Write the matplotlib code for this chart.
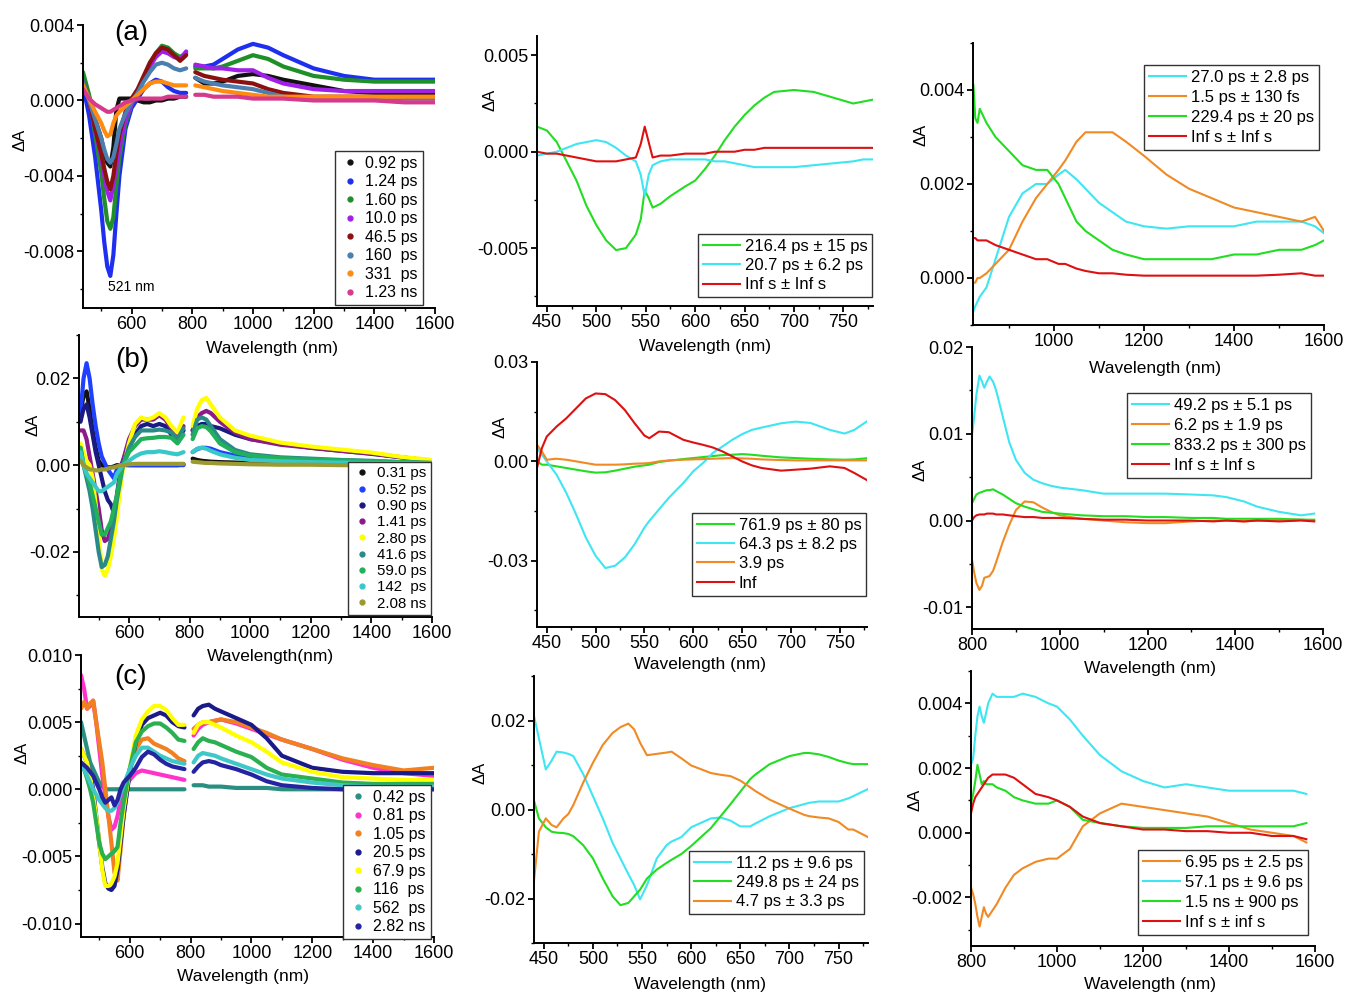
import matplotlib
matplotlib.use("Agg")
import matplotlib.pyplot as plt
from matplotlib.lines import Line2D
from matplotlib.ticker import MultipleLocator, FuncFormatter

plt.rcParams["font.family"] = ["Liberation Sans", "DejaVu Sans"]
plt.rcParams["axes.unicode_minus"] = False

W, H = 1346, 994

# ---------------- (a) left: TA spectra at delays ----------------
a_vis_wl = [440, 460, 480, 500, 510, 520, 530, 540, 550, 560, 580, 600, 620, 640, 660, 680, 700, 720, 740, 760, 780]
a_nir_wl = [810, 840, 870, 900, 950, 1000, 1050, 1100, 1200, 1300, 1400, 1500, 1600]
a_labels = ["0.92 ps", "1.24 ps", "1.60 ps", "10.0 ps", "46.5 ps", "160  ps", "331  ps", "1.23 ns"]
a_vis = [
    [0.0008, 0.0002, -0.001, -0.002, -0.0028, -0.0033, -0.0035, -0.0025, -0.0005, 0.0001, 0.0001, 0.0001, 0.0, -0.0001, -0.0001, 0.0, 0.0, 0.0001, 0.0001, 0.0002, 0.0002],
    [0.0008, -0.0008, -0.003, -0.0058, -0.0075, -0.0088, -0.0093, -0.0082, -0.006, -0.004, -0.0015, -0.0004, 0.0001, 0.0006, 0.0009, 0.0011, 0.001, 0.0007, 0.0005, 0.0004, 0.0004],
    [0.0015, 0.0003, -0.0018, -0.0038, -0.0052, -0.0064, -0.0068, -0.0062, -0.0045, -0.003, -0.0012, -0.0002, 0.0004, 0.0012, 0.0019, 0.0025, 0.0029, 0.0028, 0.0025, 0.0023, 0.0025],
    [0.001, 0.0, -0.0015, -0.003, -0.004, -0.0048, -0.0053, -0.0045, -0.0035, -0.0025, -0.001, -0.0002, 0.0005, 0.0012, 0.0018, 0.0023, 0.0026, 0.0025, 0.0023, 0.0022, 0.0026],
    [0.001, 0.0, -0.0015, -0.0028, -0.0036, -0.0043, -0.0047, -0.004, -0.0028, -0.0018, -0.0006, 0.0001, 0.0006, 0.0013, 0.002, 0.0025, 0.0028, 0.0027, 0.0024, 0.0021, 0.0024],
    [0.001, 0.0, -0.001, -0.002, -0.0026, -0.0031, -0.0033, -0.003, -0.0023, -0.0015, -0.0007, -0.0001, 0.0004, 0.001, 0.0015, 0.0019, 0.002, 0.0019, 0.0017, 0.0016, 0.0017],
    [0.0008, 0.0001, -0.0006, -0.0012, -0.0016, -0.0019, -0.0018, -0.0012, -0.0008, -0.0006, -0.0003, 0.0, 0.0003, 0.0006, 0.0009, 0.001, 0.001, 0.0009, 0.0008, 0.0008, 0.0008],
    [0.0006, 0.0001, -0.0002, -0.0004, -0.0005, -0.0006, -0.0006, -0.0005, -0.0004, -0.0003, -0.0001, 0.0, 0.0001, 0.0001, 0.0001, 0.0001, 0.0001, 0.0002, 0.0002, 0.0002, 0.0002],
]
a_nir = [
    [0.0012, 0.0009, 0.0009, 0.001, 0.0013, 0.0014, 0.0013, 0.0011, 0.0008, 0.0005, 0.0004, 0.0003, 0.0003],
    [0.0018, 0.0018, 0.0019, 0.0022, 0.0027, 0.003, 0.0028, 0.0024, 0.0017, 0.0013, 0.0011, 0.0011, 0.0011],
    [0.0017, 0.0017, 0.0017, 0.0018, 0.0021, 0.0024, 0.0022, 0.0018, 0.0013, 0.0011, 0.001, 0.001, 0.001],
    [0.0019, 0.0018, 0.0017, 0.0017, 0.0016, 0.0016, 0.0012, 0.0009, 0.0006, 0.0005, 0.0005, 0.0005, 0.0005],
    [0.0015, 0.0013, 0.0012, 0.0011, 0.001, 0.0009, 0.0006, 0.0004, 0.0002, 0.0002, 0.0002, 0.0002, 0.0002],
    [0.0012, 0.001, 0.0009, 0.0008, 0.0007, 0.0006, 0.0004, 0.0002, 0.0001, 0.0001, 0.0001, 0.0001, 0.0001],
    [0.0008, 0.0007, 0.0006, 0.0005, 0.0004, 0.0003, 0.0002, 0.0002, 0.0002, 0.0002, 0.0002, 0.0002, 0.0002],
    [0.0003, 0.0003, 0.0002, 0.0002, 0.0002, 0.0001, 0.0001, 0.0001, 0.0, 0.0, 0.0, -0.0001, -0.0001],
]
a_colors = ["#111111", "#1f2ff0", "#1f8f2a", "#a020e8", "#8b1010", "#4a7fb0", "#ff8c10", "#d63a8c"]

# ---------------- (b) left ----------------
b_vis_wl = [440, 450, 460, 470, 480, 490, 500, 510, 520, 530, 540, 550, 560, 570, 580, 600, 620, 640, 660, 680, 700, 720, 740, 760, 780]
b_nir_wl = [810, 825, 840, 855, 870, 900, 950, 1000, 1100, 1200, 1300, 1400, 1500, 1600]
b_labels = ["0.31 ps", "0.52 ps", "0.90 ps", "1.41 ps", "2.80 ps", "41.6 ps", "59.0 ps", "142  ps", "2.08 ns"]
b_vis = [
    [0.012, 0.016, 0.017, 0.013, 0.008, 0.004, 0.001, 0.0, -0.0003, -0.0005, -0.0005, -0.0003, 0.0, 0.0, 0.0, 0.0, 0.0, 0.0, 0.0, 0.0, 0.0, 0.0, 0.0, 0.0, 0.0002],
    [0.012, 0.02, 0.0235, 0.02, 0.014, 0.009, 0.005, 0.002, 0.0005, -0.001, -0.002, -0.003, -0.001, 0.0, 0.0005, 0.0, 0.0, 0.0, 0.0, 0.0, 0.0, 0.0, 0.0, 0.0, 0.0],
    [0.01, 0.013, 0.014, 0.011, 0.007, 0.003, 0.0, -0.003, -0.006, -0.008, -0.009, -0.011, -0.007, -0.002, 0.001, 0.004, 0.007, 0.009, 0.0095, 0.009, 0.0095, 0.009, 0.007, 0.006, 0.008],
    [0.008, 0.008, 0.006, 0.002, -0.002, -0.006, -0.01, -0.015, -0.0175, -0.017, -0.015, -0.012, -0.008, -0.003, 0.001, 0.006, 0.009, 0.0105, 0.0105, 0.0105, 0.0115, 0.0105, 0.0085, 0.006, 0.009],
    [0.005, 0.003, 0.001, 0.0, -0.003, -0.009, -0.016, -0.024, -0.0255, -0.024, -0.021, -0.017, -0.012, -0.006, -0.001, 0.005, 0.0095, 0.011, 0.0105, 0.011, 0.012, 0.011, 0.009, 0.0075, 0.011],
    [0.004, 0.0, -0.003, -0.006, -0.01, -0.015, -0.02, -0.0235, -0.023, -0.021, -0.017, -0.013, -0.008, -0.004, 0.0, 0.004, 0.0065, 0.008, 0.008, 0.008, 0.0082, 0.008, 0.0075, 0.006, 0.0085],
    [0.004, 0.0, -0.002, -0.004, -0.007, -0.01, -0.013, -0.016, -0.016, -0.0145, -0.013, -0.01, -0.007, -0.003, 0.0, 0.003, 0.0045, 0.006, 0.0062, 0.0063, 0.0065, 0.0065, 0.0063, 0.005, 0.007],
    [0.003, 0.0, -0.002, -0.003, -0.004, -0.005, -0.006, -0.006, -0.0055, -0.005, -0.0045, -0.004, -0.002, -0.001, 0.0, 0.001, 0.002, 0.0027, 0.003, 0.003, 0.0032, 0.003, 0.0027, 0.0025, 0.003],
    [0.001, 0.0, -0.0005, -0.001, -0.001, -0.0012, -0.0012, -0.001, -0.001, -0.0008, -0.0006, -0.0005, -0.0003, 0.0, 0.0, 0.0002, 0.0003, 0.0003, 0.0003, 0.0003, 0.0003, 0.0003, 0.0003, 0.0003, 0.0003],
]
b_nir = [
    [0.0015, 0.0012, 0.001, 0.0009, 0.0008, 0.0007, 0.0006, 0.0005, 0.0004, 0.0003, 0.0002, 0.0001, 0.0, 0.0],
    [0.003, 0.0037, 0.004, 0.004, 0.0038, 0.003, 0.0022, 0.0015, 0.001, 0.0007, 0.0006, 0.0005, 0.0005, 0.0005],
    [0.008, 0.009, 0.0095, 0.0095, 0.009, 0.0085, 0.007, 0.006, 0.005, 0.004, 0.0033, 0.0026, 0.0018, 0.001],
    [0.008, 0.011, 0.012, 0.0125, 0.012, 0.01, 0.0075, 0.006, 0.0047, 0.004, 0.0033, 0.0027, 0.0018, 0.001],
    [0.009, 0.013, 0.015, 0.0155, 0.014, 0.011, 0.008, 0.0068, 0.0052, 0.0043, 0.0036, 0.0029, 0.0019, 0.0012],
    [0.007, 0.0105, 0.011, 0.0105, 0.009, 0.006, 0.0035, 0.0025, 0.0018, 0.0015, 0.0012, 0.001, 0.0007, 0.0005],
    [0.006, 0.0085, 0.009, 0.0088, 0.0078, 0.005, 0.003, 0.0022, 0.0016, 0.0013, 0.0011, 0.0009, 0.0007, 0.0005],
    [0.003, 0.0038, 0.004, 0.0038, 0.0033, 0.0025, 0.0017, 0.0012, 0.0009, 0.0007, 0.0006, 0.0005, 0.0005, 0.0005],
    [0.0008, 0.0007, 0.0006, 0.0005, 0.0005, 0.0004, 0.0003, 0.0002, 0.0001, 0.0001, 0.0, 0.0, 0.0, 0.0],
]
b_colors = ["#111111", "#2040ff", "#1a1a80", "#8b1a8b", "#ffff00", "#2a8a8a", "#22b05a", "#38c8c8", "#9a9a30"]

# ---------------- (c) left ----------------
c_vis_wl = [440, 450, 460, 470, 480, 490, 500, 510, 520, 530, 540, 550, 560, 570, 580, 600, 620, 640, 660, 680, 700, 720, 740, 760, 780]
c_nir_wl = [810, 825, 840, 860, 880, 900, 950, 1000, 1050, 1100, 1200, 1300, 1400, 1500, 1600]
c_labels = ["0.42 ps", "0.81 ps", "1.05 ps", "20.5 ps", "67.9 ps", "116  ps", "562  ps", "2.82 ns"]
c_vis = [
    [0.005, 0.004, 0.003, 0.002, 0.0015, 0.001, 0.0005, 0.0002, 0.0, 0.0, 0.0, 0.0, 0.0, 0.0, 0.0, 0.0, 0.0, 0.0, 0.0, 0.0, 0.0, 0.0, 0.0, 0.0, 0.0],
    [0.0085, 0.0075, 0.006, 0.0062, 0.0066, 0.005, 0.003, 0.001, -0.0005, -0.002, -0.003, -0.0028, -0.002, -0.0008, 0.0, 0.0007, 0.0012, 0.0014, 0.0013, 0.0012, 0.0011, 0.001, 0.0009, 0.0008, 0.0007],
    [0.006, 0.0065, 0.006, 0.0064, 0.0066, 0.005, 0.0035, 0.002, 0.0, -0.002, -0.004, -0.0062, -0.0068, -0.0045, -0.002, 0.0015, 0.003, 0.0037, 0.0038, 0.0034, 0.0032, 0.003, 0.0027, 0.0023, 0.0021],
    [0.003, 0.0025, 0.002, 0.0012, 0.0, -0.002, -0.004, -0.0058, -0.007, -0.0074, -0.0075, -0.0072, -0.006, -0.004, -0.002, 0.0012, 0.0035, 0.0048, 0.0053, 0.0055, 0.0057, 0.0055, 0.005, 0.0047, 0.0046],
    [0.003, 0.0025, 0.002, 0.001, -0.0005, -0.002, -0.004, -0.006, -0.0072, -0.0072, -0.007, -0.0065, -0.0055, -0.0035, -0.0015, 0.0015, 0.004, 0.0052, 0.0058, 0.0062, 0.0062, 0.0059, 0.0053, 0.0048, 0.0048],
    [0.002, 0.0015, 0.0008, 0.0, -0.001, -0.0025, -0.004, -0.0048, -0.0052, -0.005, -0.0048, -0.0046, -0.0043, -0.0025, -0.001, 0.0015, 0.0035, 0.0043, 0.0047, 0.0049, 0.0049, 0.0046, 0.0042, 0.0037, 0.0036],
    [0.002, 0.0015, 0.001, 0.0005, 0.0, -0.0004, -0.0008, -0.0011, -0.0014, -0.0016, -0.0016, -0.0014, -0.001, -0.0003, 0.0003, 0.0015, 0.0025, 0.0031, 0.0031, 0.0028, 0.0025, 0.0023, 0.0021, 0.002, 0.0019],
    [0.002, 0.0018, 0.0016, 0.0013, 0.001, 0.0005, 0.0, -0.0006, -0.001, -0.0008, -0.0006, -0.0012, -0.0008, 0.0, 0.0005, 0.001, 0.0016, 0.0024, 0.0028, 0.0026, 0.0022, 0.0019, 0.0017, 0.0016, 0.0015],
]
c_nir = [
    [0.0003, 0.0003, 0.0003, 0.0002, 0.0002, 0.0002, 0.0001, 0.0001, 0.0001, 0.0, 0.0, 0.0, 0.0, 0.0, 0.0],
    [0.004, 0.0045, 0.0048, 0.005, 0.0051, 0.0052, 0.0049, 0.0045, 0.0041, 0.0037, 0.003, 0.0022, 0.0016, 0.0012, 0.001],
    [0.0045, 0.0048, 0.005, 0.005, 0.0051, 0.0052, 0.005, 0.0046, 0.0042, 0.0037, 0.003, 0.0023, 0.0018, 0.0014, 0.0016],
    [0.0055, 0.006, 0.0062, 0.0063, 0.006, 0.0058, 0.0053, 0.0048, 0.0038, 0.0025, 0.0016, 0.0013, 0.0012, 0.0012, 0.0012],
    [0.0042, 0.0048, 0.005, 0.005, 0.0048, 0.0046, 0.004, 0.0035, 0.0028, 0.002, 0.0013, 0.0009, 0.0008, 0.0007, 0.0007],
    [0.003, 0.0035, 0.0038, 0.0036, 0.0035, 0.0033, 0.0028, 0.0024, 0.0016, 0.0011, 0.0008, 0.0005, 0.0004, 0.0004, 0.0004],
    [0.002, 0.0025, 0.0027, 0.0026, 0.0025, 0.0023, 0.0019, 0.0015, 0.0011, 0.0008, 0.0005, 0.0003, 0.0002, 0.0002, 0.0002],
    [0.0013, 0.0017, 0.002, 0.0021, 0.002, 0.0018, 0.0015, 0.0011, 0.0006, 0.0003, 0.0001, 0.0, 0.0, 0.0, 0.0],
]
c_colors = ["#2a8f80", "#ff33cc", "#f08020", "#1a1a8a", "#ffff00", "#2ab050", "#40c8c8", "#2424a0"]

# ---------------- middle / right: decay-associated spectra ----------------
ma_wl = [440, 450, 460, 470, 480, 490, 500, 510, 520, 530, 540, 545, 549, 553, 557, 565, 575, 590, 600, 610, 620, 630, 640, 650, 660, 670, 680, 700, 720, 740, 760, 770, 780]
ma_labels = ["216.4 ps ± 15 ps", "20.7 ps ± 6.2 ps", "Inf s ± Inf s"]
ma_vals = [
    [0.0013, 0.0011, 0.0005, -0.0005, -0.0015, -0.0028, -0.0038, -0.0046, -0.0051, -0.005, -0.0043, -0.0035, -0.002, -0.0024, -0.0029, -0.0027, -0.0023, -0.0018, -0.0015, -0.0009, -0.0002, 0.0006, 0.0013, 0.0019, 0.0024, 0.0028, 0.0031, 0.0032, 0.0031, 0.0028, 0.0025, 0.0026, 0.0027],
    [-0.0002, -0.0001, 0.0, 0.0002, 0.0004, 0.0005, 0.0006, 0.0005, 0.0002, -0.0002, -0.0005, -0.0012, -0.0023, -0.0012, -0.0007, -0.0005, -0.0004, -0.0004, -0.0004, -0.0004, -0.0005, -0.0005, -0.0006, -0.0007, -0.0008, -0.0008, -0.0008, -0.0008, -0.0007, -0.0006, -0.0005, -0.0004, -0.0004],
    [0.0, -0.0001, -0.0001, -0.0002, -0.0003, -0.0004, -0.0005, -0.0005, -0.0005, -0.0004, -0.0003, 0.0004, 0.0013, 0.0005, -0.0003, -0.0002, -0.0002, -0.0001, -0.0001, -0.0001, 0.0, 0.0, 0.0, 0.0001, 0.0001, 0.0002, 0.0002, 0.0002, 0.0002, 0.0002, 0.0002, 0.0002, 0.0002],
]
ma_colors = ["#22dd22", "#3ee6f2", "#dd1111"]

ra_wl = [821, 825, 830, 835, 850, 870, 900, 930, 960, 985, 1010, 1025, 1050, 1070, 1100, 1130, 1160, 1200, 1250, 1300, 1350, 1400, 1450, 1500, 1550, 1580, 1600]
ra_labels = ["27.0 ps ± 2.8 ps", "1.5 ps ± 130 fs", "229.4 ps ± 20 ps", "Inf s ± Inf s"]
ra_vals = [
    [-0.0007, -0.0006, -0.0005, -0.0004, -0.0002, 0.0004, 0.0013, 0.0018, 0.002, 0.002, 0.0022, 0.0023, 0.0021, 0.0019, 0.0016, 0.0014, 0.0012, 0.0011, 0.00105, 0.0011, 0.0011, 0.0011, 0.0012, 0.0012, 0.0012, 0.0011, 0.00095],
    [-0.0001, -0.0001, 0.0, 0.0, 0.0001, 0.0003, 0.0006, 0.0012, 0.0017, 0.002, 0.0023, 0.0025, 0.0029, 0.0031, 0.0031, 0.0031, 0.0029, 0.0026, 0.0022, 0.0019, 0.0017, 0.0015, 0.0014, 0.0013, 0.0012, 0.0013, 0.001],
    [0.0041, 0.0034, 0.0033, 0.0036, 0.0033, 0.003, 0.0027, 0.0024, 0.0023, 0.0023, 0.002, 0.0017, 0.0012, 0.001, 0.0008, 0.0006, 0.0005, 0.0004, 0.0004, 0.0004, 0.0004, 0.0005, 0.0005, 0.0006, 0.0006, 0.0007, 0.0008],
    [0.00085, 0.00085, 0.0008, 0.0008, 0.0008, 0.0007, 0.0006, 0.0005, 0.0004, 0.0004, 0.0003, 0.0003, 0.0002, 0.00015, 0.0001, 0.0001, 0.00007, 0.00005, 0.00005, 0.00005, 0.00005, 0.00005, 0.00005, 0.00007, 0.0001, 0.00005, 0.00005],
]
ra_colors = ["#3ee6f2", "#f08a24", "#22dd22", "#dd1111"]

mb_wl = [440, 445, 450, 460, 470, 480, 490, 500, 510, 520, 530, 540, 550, 555, 565, 575, 590, 600, 610, 620, 630, 640, 650, 660, 670, 690, 705, 720, 740, 755, 765, 780]
mb_labels = ["761.9 ps ± 80 ps", "64.3 ps ± 8.2 ps", "3.9 ps", "Inf"]
mb_vals = [
    [0.0, -0.001, -0.001, -0.0015, -0.002, -0.0025, -0.003, -0.0034, -0.0033, -0.0028, -0.0022, -0.0016, -0.0012, -0.001, -0.0002, 0.0002, 0.0007, 0.001, 0.0013, 0.0016, 0.0019, 0.002, 0.0022, 0.002, 0.0017, 0.0012, 0.001, 0.0008, 0.0006, 0.0005, 0.0006, 0.001],
    [0.004, 0.002, 0.0, -0.004, -0.0095, -0.016, -0.023, -0.0285, -0.0322, -0.0315, -0.029, -0.025, -0.02, -0.018, -0.0145, -0.011, -0.0065, -0.003, -0.0005, 0.0025, 0.0045, 0.0065, 0.0082, 0.0095, 0.0102, 0.0115, 0.012, 0.0116, 0.0095, 0.0084, 0.0095, 0.0125],
    [0.005, 0.003, 0.0005, 0.0008, 0.0005, 0.0, -0.0005, -0.001, -0.001, -0.001, -0.0009, -0.0007, -0.0006, -0.0005, 0.0, 0.0003, 0.0005, 0.0006, 0.0007, 0.0008, 0.0009, 0.001, 0.0009, 0.0008, 0.0006, 0.0004, 0.0003, 0.0003, 0.0003, 0.0003, 0.0003, 0.0003],
    [-0.002, 0.004, 0.0075, 0.0105, 0.013, 0.016, 0.019, 0.0205, 0.0203, 0.0185, 0.0155, 0.0115, 0.0078, 0.007, 0.009, 0.0088, 0.0065, 0.0057, 0.005, 0.0042, 0.003, 0.0015, 0.0, -0.0012, -0.002, -0.0028, -0.0025, -0.0022, -0.0015, -0.002, -0.0035, -0.006],
]
mb_colors = ["#22dd22", "#3ee6f2", "#f08a24", "#dd1111"]

rb_wl = [800, 805, 810, 817, 823, 828, 834, 840, 848, 855, 870, 885, 900, 920, 940, 960, 980, 1000, 1050, 1100, 1150, 1200, 1240, 1300, 1350, 1380, 1420, 1450, 1500, 1550, 1580]
rb_labels = ["49.2 ps ± 5.1 ps", "6.2 ps ± 1.9 ps", "833.2 ps ± 300 ps", "Inf s ± Inf s"]
rb_vals = [
    [0.0098, 0.012, 0.0145, 0.0167, 0.016, 0.0153, 0.016, 0.0166, 0.016, 0.015, 0.012, 0.009, 0.007, 0.0055, 0.0047, 0.0043, 0.004, 0.0038, 0.0035, 0.0031, 0.0031, 0.0031, 0.0031, 0.003, 0.0029, 0.0027, 0.0022, 0.0016, 0.001, 0.0006, 0.0008],
    [-0.0045, -0.006, -0.0072, -0.008, -0.0075, -0.0066, -0.0065, -0.0064, -0.0058, -0.0048, -0.0025, -0.0005, 0.0012, 0.0022, 0.0021, 0.0015, 0.001, 0.0006, 0.0002, 0.0, -0.0002, -0.0003, -0.0003, -0.0001, 0.0, 0.0, -0.0001, 0.0, 0.0001, 0.0001, 0.0],
    [0.002, 0.0025, 0.003, 0.0032, 0.0033, 0.0034, 0.0035, 0.0035, 0.0036, 0.0034, 0.003, 0.0025, 0.002, 0.0016, 0.0013, 0.001, 0.0009, 0.0008, 0.0006, 0.0005, 0.0005, 0.0004, 0.0004, 0.0003, 0.0003, 0.0002, 0.0002, 0.0002, 0.0002, 0.0001, 0.0001],
    [0.0, 0.0004, 0.0006, 0.0007, 0.0007, 0.0007, 0.0008, 0.0008, 0.0008, 0.0007, 0.0007, 0.0006, 0.0005, 0.0004, 0.0004, 0.0003, 0.0003, 0.0003, 0.0002, 0.0001, 0.0001, 0.0, 0.0, 0.0, -0.0001, 0.0, -0.0001, 0.0, -0.0001, 0.0, -0.0001],
]
rb_colors = ["#3ee6f2", "#f08a24", "#22dd22", "#dd1111"]

mc_wl = [440, 445, 452, 458, 463, 470, 475, 480, 490, 500, 510, 520, 528, 536, 542, 548, 555, 565, 575, 580, 590, 600, 620, 630, 640, 650, 660, 665, 680, 700, 715, 720, 730, 740, 750, 760, 765, 780]
mc_labels = ["11.2 ps ± 9.6 ps", "249.8 ps ± 24 ps", "4.7 ps ± 3.3 ps"]
mc_vals = [
    [0.021, 0.016, 0.009, 0.011, 0.013, 0.0128, 0.0125, 0.012, 0.008, 0.003, -0.002, -0.0075, -0.011, -0.0145, -0.017, -0.0202, -0.017, -0.011, -0.008, -0.0072, -0.0062, -0.004, -0.002, -0.0018, -0.0025, -0.0038, -0.0038, -0.0032, -0.0015, 0.0003, 0.0012, 0.0015, 0.0018, 0.0018, 0.0018, 0.0025, 0.003, 0.0046],
    [0.002, -0.002, -0.004, -0.005, -0.0052, -0.0053, -0.0055, -0.006, -0.008, -0.011, -0.0155, -0.0195, -0.0215, -0.021, -0.0195, -0.018, -0.0155, -0.0135, -0.012, -0.0113, -0.01, -0.0082, -0.0042, -0.0015, 0.0012, 0.004, 0.0068, 0.0078, 0.0102, 0.012, 0.0127, 0.0127, 0.0124, 0.0118, 0.011, 0.0104, 0.0102, 0.0102],
    [-0.016, -0.005, -0.002, -0.0035, -0.004, -0.002, -0.001, 0.001, 0.006, 0.0105, 0.0145, 0.0172, 0.0185, 0.0193, 0.018, 0.015, 0.0122, 0.0125, 0.0128, 0.013, 0.0115, 0.0099, 0.0082, 0.0078, 0.0075, 0.0065, 0.005, 0.0042, 0.0022, 0.0002, -0.0012, -0.0015, -0.0018, -0.002, -0.0028, -0.0045, -0.0045, -0.0062],
]
mc_colors = ["#3ee6f2", "#22dd22", "#f08a24"]

rc_wl = [800, 805, 810, 815, 820, 825, 830, 835, 840, 850, 860, 880, 900, 920, 950, 980, 1000, 1030, 1060, 1100, 1150, 1200, 1250, 1300, 1350, 1400, 1450, 1500, 1550, 1580]
rc_labels = ["6.95 ps ± 2.5 ps", "57.1 ps ± 9.6 ps", "1.5 ns ± 900 ps", "Inf s ± inf s"]
rc_vals = [
    [-0.0017, -0.0019, -0.0022, -0.0026, -0.0029, -0.0026, -0.0023, -0.0025, -0.0026, -0.0024, -0.0022, -0.0017, -0.0013, -0.0011, -0.0009, -0.0008, -0.0008, -0.0005, 0.0002, 0.0006, 0.0009, 0.0008, 0.0007, 0.0006, 0.0005, 0.0003, 0.0001, 0.0, -0.0001, -0.0003],
    [0.0021, 0.0023, 0.003, 0.0036, 0.0039, 0.0036, 0.0034, 0.0037, 0.004, 0.0043, 0.0042, 0.0042, 0.0042, 0.0043, 0.0042, 0.004, 0.0039, 0.0035, 0.003, 0.0024, 0.0019, 0.0016, 0.0014, 0.0015, 0.0014, 0.0013, 0.0013, 0.0013, 0.0013, 0.0012],
    [0.0009, 0.0012, 0.0016, 0.0021, 0.0018, 0.0015, 0.0016, 0.0015, 0.0015, 0.0015, 0.0014, 0.0013, 0.0011, 0.001, 0.0009, 0.0009, 0.001, 0.0008, 0.0004, 0.0003, 0.0002, 0.00015, 0.00015, 0.00015, 0.0002, 0.0002, 0.0002, 0.0002, 0.0002, 0.0003],
    [0.0006, 0.0009, 0.0011, 0.0012, 0.0013, 0.0014, 0.0015, 0.0016, 0.0017, 0.0018, 0.0018, 0.0018, 0.0017, 0.0015, 0.0012, 0.0011, 0.001, 0.0008, 0.0005, 0.0003, 0.0002, 0.0001, 0.0001, 0.00005, 0.00005, 0.0, 0.0, -0.0001, -0.0001, -0.0002],
]
rc_colors = ["#f08a24", "#3ee6f2", "#22dd22", "#dd1111"]


def px_box(x0, y0, x1, y1):
    return [x0 / W, 1 - y1 / H, (x1 - x0) / W, (y1 - y0) / H]


def tick_fmt(dec):
    def f(v, pos):
        if abs(v) < 1e-12:
            v = 0.0
        return f"{v:.{dec}f}"
    return FuncFormatter(f)


def style_axes(fig, ax, xlim, ylim, xmaj, ymaj, dec, xlabel, xlab_px, ylab_px):
    ax.patch.set_visible(False)
    ax.set_xlim(*xlim)
    ax.set_ylim(*ylim)
    for s in ["top", "right"]:
        ax.spines[s].set_visible(False)
    for s in ["left", "bottom"]:
        ax.spines[s].set_linewidth(1.4)
    ax.xaxis.set_major_locator(MultipleLocator(xmaj))
    ax.xaxis.set_minor_locator(MultipleLocator(xmaj / 2))
    ax.yaxis.set_major_locator(MultipleLocator(ymaj))
    ax.yaxis.set_minor_locator(MultipleLocator(ymaj / 2))
    ax.yaxis.set_major_formatter(tick_fmt(dec))
    ax.tick_params(which="major", direction="out", length=4, width=1.3, labelsize=13, pad=2)
    ax.tick_params(which="minor", direction="out", length=2.5, width=1.0)
    ax.set_xlabel(xlabel, fontsize=12.5)
    ax.set_ylabel("ΔA", fontsize=12)
    ax.xaxis.label.set_va("center")
    ax.yaxis.label.set_va("center")
    ax.xaxis.set_label_coords(xlab_px[0] / W, 1 - xlab_px[1] / H, transform=fig.transFigure)
    ax.yaxis.set_label_coords(ylab_px[0] / W, 1 - ylab_px[1] / H, transform=fig.transFigure)


def legend_at(fig, ax, handles, labels, x0, y0, fs, spacing, hl):
    leg = ax.legend(handles, labels, loc="upper left", bbox_to_anchor=(x0 / W, 1 - y0 / H),
                    bbox_transform=fig.transFigure, fontsize=fs, frameon=True, fancybox=False,
                    framealpha=1, edgecolor="#333333", borderpad=0.3, labelspacing=spacing,
                    handlelength=hl, handletextpad=0.3, borderaxespad=0)
    leg.get_frame().set_linewidth(1.0)
    return leg


def scatter_panel(fig, ax, vis_wl, nir_wl, vis, nir, colors, labels):
    for v, n, c in zip(vis, nir, colors):
        ax.plot(vis_wl, v, color=c, lw=3.0, solid_capstyle="round")
        ax.plot(nir_wl, n, color=c, lw=3.0, solid_capstyle="round")
    return [Line2D([], [], ls="none", marker="o", ms=3.5, color=c) for c in colors]


def line_panel(ax, wl, vals, colors):
    for v, c in zip(vals, colors):
        ax.plot(wl, v, color=c, lw=1.5)
    return [Line2D([], [], color=c, lw=1.5) for c in colors]


fig = plt.figure(figsize=(W / 100, H / 100), dpi=100)

# ---- left column ----
ax = fig.add_axes(px_box(83, 25, 435, 308))
h = scatter_panel(fig, ax, a_vis_wl, a_nir_wl, a_vis, a_nir, a_colors, a_labels)
style_axes(fig, ax, (440, 1600), (-0.011, 0.004), 200, 0.004, 3, "Wavelength (nm)", (272, 349), (20, 140))
legend_at(fig, ax, h, a_labels, 335, 151, 11.5, 0.22, 1.3)
ax.text(521, -0.0099, "521 nm", fontsize=10, va="center", ha="left")
fig.text(131 / W, 1 - 33 / H, "(a)", fontsize=20, ha="center", va="center")

ax = fig.add_axes(px_box(79, 335, 432, 617))
h = scatter_panel(fig, ax, b_vis_wl, b_nir_wl, b_vis, b_nir, b_colors, b_labels)
style_axes(fig, ax, (435, 1600), (-0.035, 0.03), 200, 0.02, 2, "Wavelength(nm)", (270, 657), (33, 425))
legend_at(fig, ax, h, b_labels, 348, 462, 10.8, 0.15, 1.3)
fig.text(132 / W, 1 - 360 / H, "(b)", fontsize=20, ha="center", va="center")

ax = fig.add_axes(px_box(81, 655, 434, 937))
h = scatter_panel(fig, ax, c_vis_wl, c_nir_wl, c_vis, c_nir, c_colors, c_labels)
style_axes(fig, ax, (440, 1600), (-0.011, 0.010), 200, 0.005, 3, "Wavelength (nm)", (243, 977), (22, 753))
legend_at(fig, ax, h, c_labels, 343, 785, 11.5, 0.22, 1.3)
fig.text(131 / W, 1 - 677 / H, "(c)", fontsize=20, ha="center", va="center")

# ---- middle column ----
ax = fig.add_axes(px_box(537, 36, 873, 306))
h = line_panel(ax, ma_wl, ma_vals, ma_colors)
style_axes(fig, ax, (440, 780), (-0.008, 0.006), 50, 0.005, 3, "Wavelength (nm)", (705, 347), (490, 100))
legend_at(fig, ax, h, ma_labels, 698, 234, 12, 0.25, 2.2)

ax = fig.add_axes(px_box(537, 362, 867, 627))
h = line_panel(ax, mb_wl, mb_vals, mb_colors)
style_axes(fig, ax, (440, 778), (-0.05, 0.03), 50, 0.03, 2, "Wavelength (nm)", (700, 665), (500, 427))
legend_at(fig, ax, h, mb_labels, 692, 513, 12, 0.25, 2.2)

ax = fig.add_axes(px_box(534, 676, 868, 943))
h = line_panel(ax, mc_wl, mc_vals, mc_colors)
style_axes(fig, ax, (440, 780), (-0.03, 0.03), 50, 0.02, 2, "Wavelength (nm)", (700, 985), (480, 773))
legend_at(fig, ax, h, mc_labels, 689, 851, 12, 0.25, 2.2)

# ---- right column ----
ax = fig.add_axes(px_box(973, 43, 1324, 325))
h = line_panel(ax, ra_wl, ra_vals, ra_colors)
style_axes(fig, ax, (820, 1600), (-0.001, 0.005), 200, 0.002, 3, "Wavelength (nm)", (1155, 368), (921, 135))
legend_at(fig, ax, h, ra_labels, 1144, 65, 12, 0.3, 2.2)

ax = fig.add_axes(px_box(972, 347, 1323, 629))
h = line_panel(ax, rb_wl, rb_vals, rb_colors)
style_axes(fig, ax, (800, 1600), (-0.0125, 0.02), 200, 0.01, 2, "Wavelength (nm)", (1150, 669), (920, 470))
legend_at(fig, ax, h, rb_labels, 1127, 393, 12, 0.3, 2.2)

ax = fig.add_axes(px_box(971, 671, 1315, 946))
h = line_panel(ax, rc_wl, rc_vals, rc_colors)
style_axes(fig, ax, (800, 1600), (-0.0035, 0.005), 200, 0.002, 3, "Wavelength (nm)", (1150, 984), (915, 800))
legend_at(fig, ax, h, rc_labels, 1138, 850, 12, 0.3, 2.2)

fig.savefig("out.png", dpi=100)
